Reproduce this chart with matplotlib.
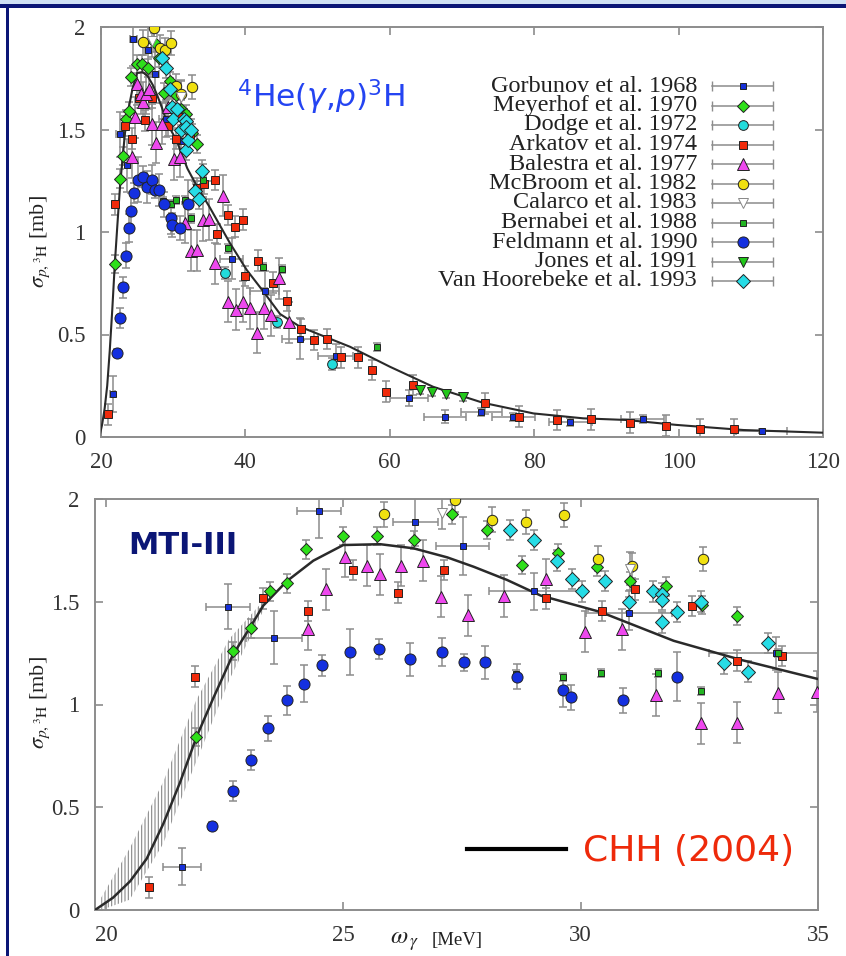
import matplotlib
matplotlib.use('agg')
import matplotlib.pyplot as plt
from matplotlib.lines import Line2D
from matplotlib.patches import Rectangle

plt.rcParams['font.family'] = ['Liberation Serif', 'DejaVu Serif']
plt.rcParams['mathtext.fontset'] = 'stix'
plt.rcParams['hatch.linewidth'] = 0.8
plt.rcParams['hatch.color'] = '#888888'

# ---- theory curve (CHH 2004) ----
theory_x = [19.77, 20.15, 20.51, 20.86, 21.21, 21.56, 21.91, 22.26, 22.67, 23.05, 23.31, 23.81,
            24.37, 25.0, 25.78, 26.48, 27.19, 27.75, 28.45, 29.16, 30.42, 31.96, 33.38, 35.0,
            37.87, 40.18, 42.48, 44.8, 47.56, 54.5, 60.0, 66.0, 72.9, 79.9, 86.8, 92.8, 99.7,
            109.0, 120.0]
theory_y = [0.0, 0.06, 0.14, 0.25, 0.42, 0.62, 0.843, 1.03, 1.24, 1.38, 1.48, 1.60,
            1.70, 1.776, 1.78, 1.76, 1.716, 1.67, 1.606, 1.53, 1.45, 1.31, 1.217, 1.124,
            0.945, 0.815, 0.71, 0.60, 0.538, 0.44, 0.343, 0.245, 0.167, 0.115, 0.091, 0.083,
            0.059, 0.034, 0.021]
band_x = [19.9, 20.5, 21.2, 21.9, 22.6, 23.3]
band_lo = [0.0, 0.05, 0.32, 0.72, 1.12, 1.45]
band_hi = [0.06, 0.30, 0.62, 1.02, 1.32, 1.50]

# ---- data sets ----
gorbunov_x = [21.6, 22.57, 23.54, 24.49, 26.52, 27.52, 29.01, 31.02, 34.11, 38.1, 42.7, 47.56,
              52.5, 62.66, 67.6, 72.7, 77.1, 85.0, 95.0, 111.5]
gorbunov_y = [0.21, 1.476, 1.326, 1.94, 1.89, 1.77, 1.552, 1.444, 1.25, 0.87, 0.71, 0.48,
              0.395, 0.19, 0.10, 0.123, 0.096, 0.073, 0.086, 0.03]
gorbunov_xerr = [0.4, 0.46, 0.58, 0.47, 0.47, 0.56, 0.95, 0.9, 1.4, 1.6, 2.0, 2.5,
                 2.4, 2.7, 2.9, 2.8, 3.0, 3.0, 3.0, 3.5]
gorbunov_yerr = [0.09, 0.11, 0.13, 0.13, 0.12, 0.14, 0.09, 0.08, 0.08, 0.1, 0.1, 0.1,
                 0.06, 0.04, 0.03, 0.02, 0.02, 0.02, 0.02, 0.01]

meyerhof_x = [21.9, 22.67, 23.05, 23.45, 23.81, 24.21, 24.99, 25.72, 26.48, 27.29, 28.02,
              28.77, 29.52, 30.35, 31.04, 31.79, 32.55, 33.3]
meyerhof_y = [0.843, 1.26, 1.37, 1.55, 1.59, 1.755, 1.82, 1.82, 1.80, 1.925, 1.85,
              1.68, 1.735, 1.67, 1.60, 1.575, 1.484, 1.43]

dodge_x = [37.2, 44.4, 51.95]
dodge_y = [0.80, 0.56, 0.356]

arkatov_x = [20.91, 21.88, 23.31, 24.25, 25.2, 26.15, 27.12, 29.26, 30.44, 31.14, 32.34,
             33.29, 34.24, 35.8, 36.1, 37.6, 38.56, 39.7, 39.9, 41.8, 43.8, 45.7, 47.66,
             49.5, 51.3, 53.2, 55.6, 57.5, 59.5, 63.25, 73.2, 77.9, 83.1, 87.8, 93.3,
             98.25, 103.0, 107.7]
arkatov_y = [0.11, 1.135, 1.516, 1.455, 1.655, 1.545, 1.655, 1.516, 1.455, 1.56, 1.48,
             1.213, 1.235, 1.254, 0.99, 1.083, 1.026, 1.06, 0.785, 0.86, 0.753, 0.663, 0.525,
             0.473, 0.478, 0.389, 0.389, 0.327, 0.221, 0.254, 0.164, 0.099, 0.083, 0.086, 0.07,
             0.055, 0.038, 0.038]

balestra_x = [24.25, 24.64, 25.03, 25.49, 25.77, 26.22, 26.67, 27.05, 27.62, 28.38, 29.26,
              30.1, 30.88, 31.58, 32.53, 33.29, 34.16, 34.98, 35.8, 36.85, 37.6, 38.7, 39.7,
              40.7, 41.66, 42.6, 43.6, 44.7, 46.1]
balestra_y = [1.365, 1.56, 1.72, 1.675, 1.633, 1.675, 1.70, 1.525, 1.435, 1.528, 1.61,
              1.354, 1.367, 1.046, 0.908, 0.911, 1.057, 1.062, 0.847, 1.176, 0.66, 0.62, 0.66,
              0.628, 0.509, 0.628, 0.595, 0.774, 0.56]

mcbroom_x = [25.86, 27.36, 28.14, 28.84, 29.66, 30.37, 31.08, 32.58]
mcbroom_y = [1.925, 1.995, 1.90, 1.888, 1.922, 1.71, 1.675, 1.708]

calarco_x = [27.08, 31.04]
calarco_y = [1.933, 1.66]

bernabei_x = [28.63, 29.63, 30.42, 31.62, 32.53, 34.15, 37.6, 42.5, 45.0, 58.2]
bernabei_y = [1.15, 1.135, 1.155, 1.155, 1.066, 1.252, 0.92, 0.828, 0.818, 0.4375]

feldmann_x = [22.23, 22.67, 23.05, 23.42, 23.81, 24.18, 24.56, 25.15, 25.75, 26.41, 27.08,
              27.54, 27.98, 28.66, 29.63, 29.79, 30.9, 32.03]
feldmann_y = [0.41, 0.58, 0.73, 0.884, 1.02, 1.10, 1.19, 1.255, 1.27, 1.22, 1.255,
              1.205, 1.205, 1.135, 1.07, 1.035, 1.02, 1.135]
feldmann_yerr = [0.02, 0.05, 0.05, 0.06, 0.07, 0.09, 0.05, 0.11, 0.05, 0.08, 0.07,
                 0.04, 0.08, 0.06, 0.08, 0.06, 0.06, 0.12]

jones_x = [64.2, 65.9, 67.8, 70.1]
jones_y = [0.229, 0.221, 0.21, 0.197]

hoorebeke_x = [28.51, 29.01, 29.51, 29.82, 30.02, 30.51, 31.02, 31.52, 31.72, 31.72, 31.72,
               32.03, 32.53, 33.02, 33.53, 33.94]
hoorebeke_y = [1.85, 1.80, 1.70, 1.61, 1.55, 1.60, 1.50, 1.55, 1.54, 1.51, 1.40,
               1.45, 1.50, 1.20, 1.16, 1.30]

y_ticks = [0, 0.5, 1, 1.5, 2]
y_ticklabels = ['0', '0.5', '1', '1.5', '2']
top_xticks = [20, 40, 60, 80, 100, 120]
bottom_xticks = [20, 25, 30, 35]

series = [
    ("Gorbunov et al. 1968", gorbunov_x, gorbunov_y, gorbunov_yerr, gorbunov_xerr,
     dict(marker='s', ms=4.5, mfc='#1630d8')),
    ("Meyerhof et al. 1970", meyerhof_x, meyerhof_y, 0.045, None,
     dict(marker='D', ms=6.5, mfc='#2ee01a')),
    ("Dodge et al. 1972", dodge_x, dodge_y, 0.03, None,
     dict(marker='o', ms=7, mfc='#22dcdc')),
    ("Arkatov et al. 1974", arkatov_x, arkatov_y, 0.05, None,
     dict(marker='s', ms=6, mfc='#f02a0a')),
    ("Balestra et al. 1977", balestra_x, balestra_y, 0.1, None,
     dict(marker='^', ms=8.5, mfc='#ee48ee')),
    ("McBroom et al. 1982", mcbroom_x, mcbroom_y, 0.06, None,
     dict(marker='o', ms=7.5, mfc='#f0e010')),
    ("Calarco et al. 1983", calarco_x, calarco_y, 0.08, None,
     dict(marker='v', ms=7.5, mfc='white', mec='#888888')),
    ("Bernabei et al. 1988", bernabei_x, bernabei_y, 0.02, None,
     dict(marker='s', ms=4, mfc='#22b422')),
    ("Feldmann et al. 1990", feldmann_x, feldmann_y, feldmann_yerr, None,
     dict(marker='o', ms=8, mfc='#1430e0')),
    ("Jones et al. 1991", jones_x, jones_y, 0.02, None,
     dict(marker='v', ms=7, mfc='#22c81a')),
    ("Van Hoorebeke et al. 1993", hoorebeke_x, hoorebeke_y, 0.05, None,
     dict(marker='D', ms=7.5, mfc='#26dce6')),
]

W, H = 846, 956
fig = plt.figure(figsize=(W / 100, H / 100), dpi=100)


def fig_box(l, t, r, b):
    return [l / W, 1 - b / H, (r - l) / W, (b - t) / H]


# slide frame
navy = '#0b1676'
fig.add_artist(Rectangle((0, 1 - 4 / H), 1, 4 / H, transform=fig.transFigure, color='#cfe0f4', lw=0))
fig.add_artist(Rectangle((0, 1 - 8 / H), 1, 4 / H, transform=fig.transFigure, color=navy, lw=0))
fig.add_artist(Rectangle((6 / W, 0), 3 / W, 1 - 8 / H, transform=fig.transFigure, color=navy, lw=0))


def draw_data(ax):
    for label, x, y, yerr, xerr, style in series:
        ax.errorbar(x, y, yerr=yerr, xerr=xerr, fmt='none', ecolor='#8c8c8c',
                    elinewidth=1.1, capsize=3, capthick=1.1, zorder=2)
        st = dict(mec='#222222')
        st.update(style)
        ax.plot(x, y, linestyle='none', mew=0.7, zorder=4, **st)


def style_axes(ax, xticks, xlim):
    ax.set_xlim(*xlim)
    ax.set_ylim(0, 2)
    ax.set_xticks(xticks)
    ax.set_xticklabels([str(t) for t in xticks])
    ax.set_yticks(y_ticks)
    ax.set_yticklabels(y_ticklabels)
    for s in ax.spines.values():
        s.set_color('#8c8c8c')
        s.set_linewidth(1.4)
    ax.tick_params(direction='in', length=6, width=1.2, color='#8c8c8c', top=True, right=True,
                   labelsize=16.5, labelcolor='#333333', pad=11)


# ---- top panel ----
ax1 = fig.add_axes(fig_box(101, 27, 823, 437))
draw_data(ax1)
ax1.plot(theory_x, theory_y, color='#2a2a2a', lw=1.5, zorder=3)
style_axes(ax1, top_xticks, (20, 120))
fig.text(237 / W, 1 - 97 / H, r'$^4$He($\gamma$,$p$)$^3$H', color='#2444f2', fontsize=22.5,
         family='DejaVu Sans', math_fontfamily='dejavusans', va='center', ha='left')

# hand-made legend
for i, (label, x, y, yerr, xerr, style) in enumerate(series):
    yy = 1 - (86 + i * 19.5) / H
    fig.text(697 / W, yy, label, ha='right', va='center', fontsize=17.5, color='#222222')
    fig.add_artist(Line2D([712 / W, 773 / W], [yy, yy], color='#8c8c8c', lw=1.1,
                          transform=fig.transFigure))
    fig.add_artist(Line2D([712 / W, 773 / W], [yy, yy], color='#8c8c8c', marker='|', ms=7,
                          linestyle='none', transform=fig.transFigure))
    st = dict(mec='#222222')
    st.update(style)
    fig.add_artist(Line2D([743 / W], [yy], linestyle='none', mew=0.7,
                          transform=fig.transFigure, **st))

# ---- bottom panel ----
ax2 = fig.add_axes(fig_box(95, 499, 818, 910))
ax2.fill_between(band_x, band_lo, band_hi, facecolor='none', edgecolor='#888888', hatch='|||||',
                 lw=0, zorder=1)
draw_data(ax2)
ax2.plot(theory_x, theory_y, color='#2a2a2a', lw=1.8, zorder=3)
style_axes(ax2, bottom_xticks, (19.77, 35))

fig.text(128 / W, 1 - 546 / H, 'MTI-III', color=navy, fontsize=22, fontweight='bold',
         family='DejaVu Sans', va='center', ha='left')
fig.add_artist(Line2D([467 / W, 566 / W], [1 - 849 / H, 1 - 849 / H], color='black', lw=3,
                      transform=fig.transFigure))
fig.text(583 / W, 1 - 851 / H, 'CHH (2004)', color='#ee2a0a', fontsize=26,
         family='DejaVu Sans', va='center', ha='left')

# axis labels
ylab = r'$\sigma_{p,{}^3\mathrm{H}}$ [mb]'
fig.text(40 / W, 1 - 242 / H, ylab, rotation=90, fontsize=16, va='center', ha='center',
         color='#222222')
fig.text(40 / W, 1 - 703 / H, ylab, rotation=90, fontsize=16, va='center', ha='center',
         color='#222222')
fig.text(390 / W, 1 - 942 / H, r'$\omega_{\,\gamma}$', fontsize=18, va='center', ha='left',
         color='#222222')
fig.text(432 / W, 1 - 941 / H, '[MeV]', fontsize=13.5, va='center', ha='left', color='#222222')

fig.savefig('out.png', dpi=100, facecolor='white')
